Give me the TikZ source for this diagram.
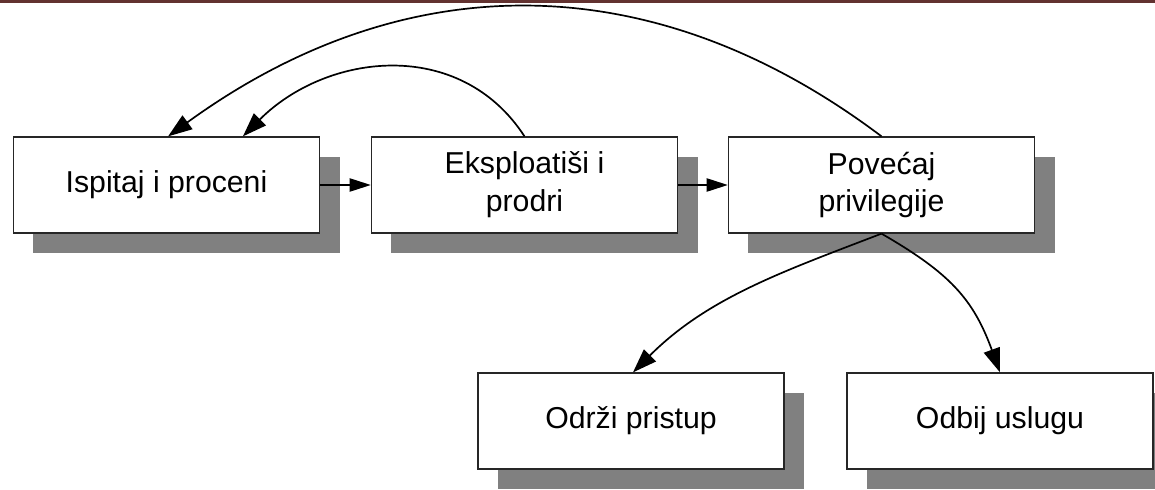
\documentclass[tikz,border=0pt]{standalone}
\usepackage{fontspec}
\setmainfont{Liberation Sans}
\usetikzlibrary{arrows.meta,shadows}

\definecolor{rulered}{RGB}{98,50,48}
\definecolor{shadowgray}{RGB}{128,128,128}

\tikzset{
  stepbox/.style={draw=black!85, line width=0.9pt, fill=white,
    minimum width=7.65cm, minimum height=2.4cm, align=center,
    font=\fontsize{21.5}{27}\selectfont,
    general shadow={fill=shadowgray, shadow xshift=5mm, shadow yshift=-5mm}},
  flow/.style={-{Triangle[length=5.3mm,width=3.3mm]}, line width=1.2pt},
  loopflow/.style={flow, -{Triangle[length=6mm,width=4.2mm]}}
}

\begin{document}
\begin{tikzpicture}[x=0.025cm, y=0.025cm]
\useasboundingbox (0,0) rectangle (1155,489);
\draw[rulered, line width=2.2pt] (0,488) -- (1155,488);

% top row
\node[stepbox] (ispitaj) at (166.5,304) {Ispitaj i proceni};
\node[stepbox] (eksploatisi) at (524.5,304) {Eksploatiši i\\prodri};
\node[stepbox] (povecaj) at (881.5,304) {Povećaj\\privilegije};
% bottom row
\node[stepbox] (odrzi) at (631,68) {Održi pristup};
\node[stepbox] (odbij) at (1000,68) {Odbij uslugu};

\draw[flow] (ispitaj) -- (eksploatisi);
\draw[flow] (eksploatisi) -- (povecaj);
\draw[loopflow] (eksploatisi.north) to[out=123, in=45, looseness=1.08] ([xshift=1.91cm]ispitaj.north);
\draw[loopflow] (povecaj.north) to[out=143, in=36, looseness=1.04] ([xshift=0.04cm]ispitaj.north);
\draw[loopflow] (povecaj.south) to[out=201, in=45, looseness=0.95] ([xshift=0.05cm]odrzi.north);
\draw[loopflow] (povecaj.south) to[out=-30, in=110, looseness=1.1] (odbij.north);
\end{tikzpicture}
\end{document}
